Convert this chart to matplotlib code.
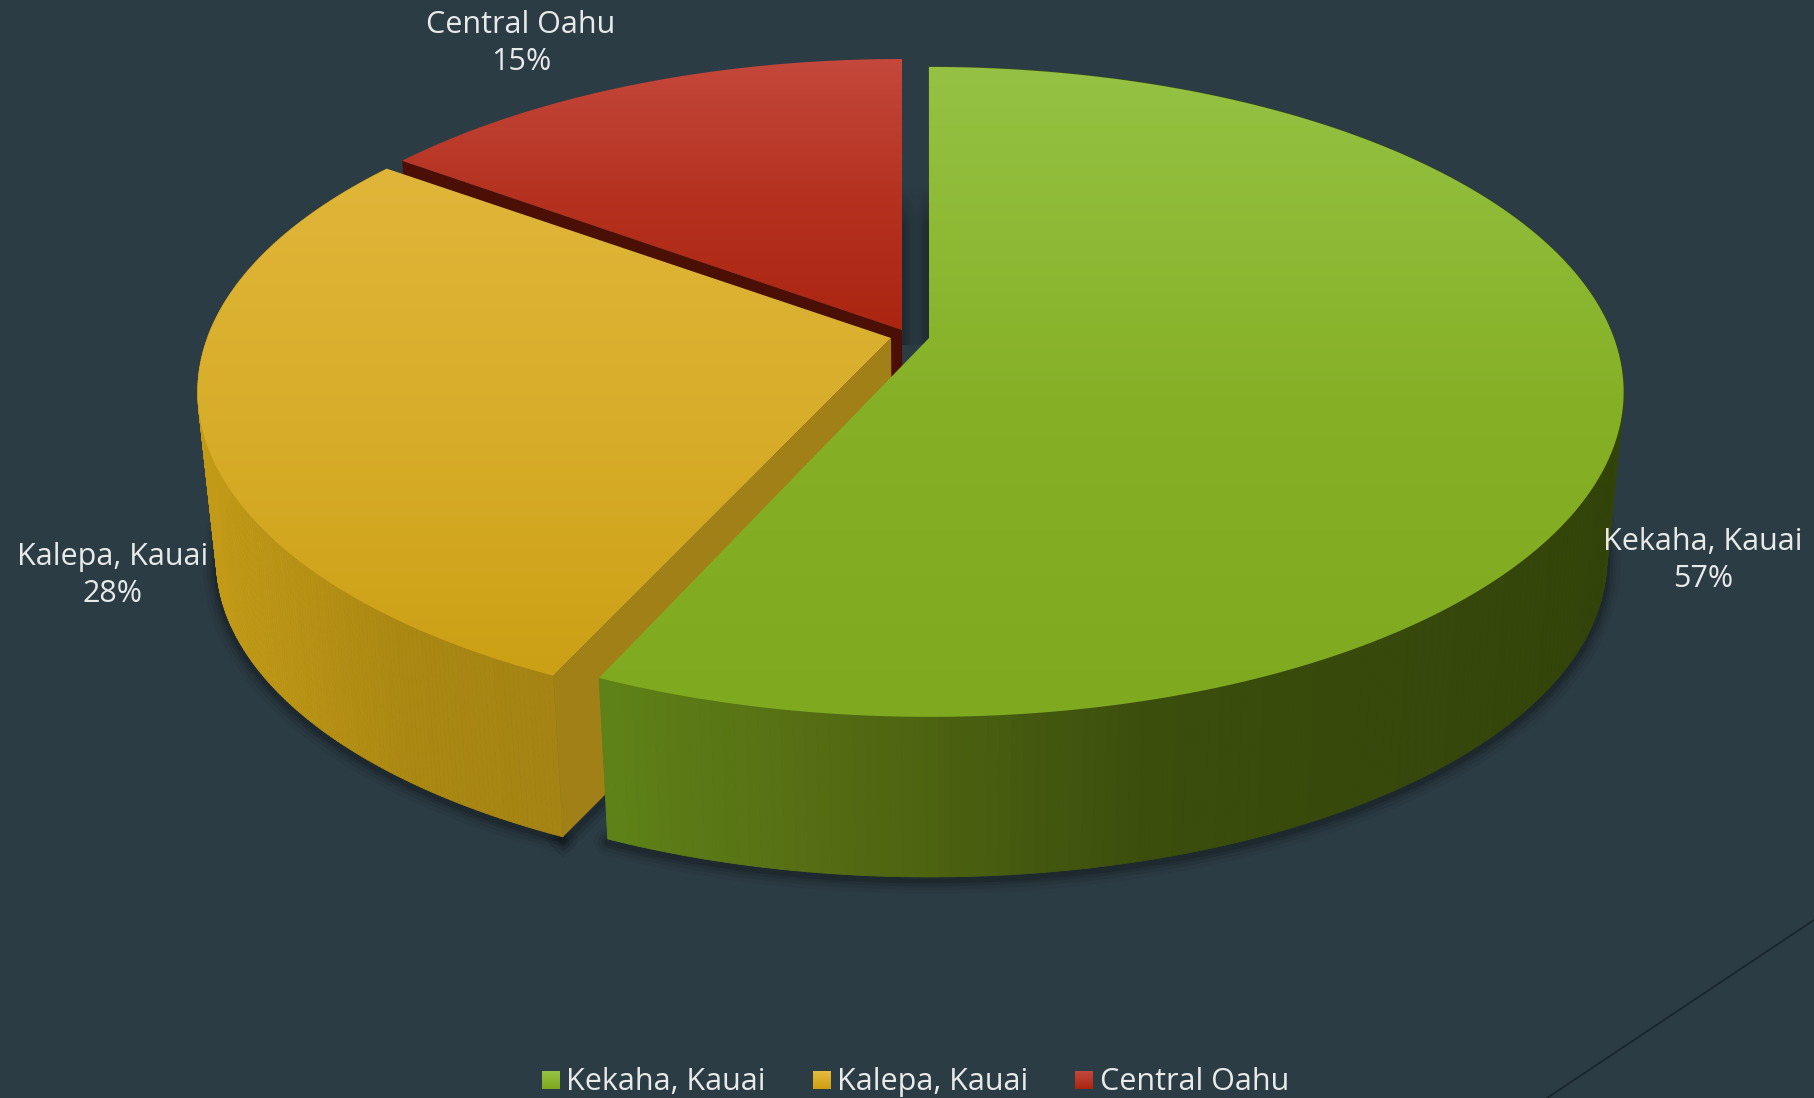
import numpy as np
import matplotlib
matplotlib.use("Agg")
import matplotlib.pyplot as plt
from matplotlib.collections import PolyCollection
from matplotlib.colors import LinearSegmentedColormap, to_rgb
from matplotlib.patches import Polygon

categories = ["Kekaha, Kauai", "Kalepa, Kauai", "Central Oahu"]
values = [56.7, 28.3, 15.0]
percent_labels = ["57%", "28%", "15%"]

W, H = 1814, 1098
BG = "#2c3c45"
TEXT = "#e8eaea"
FONT = "Open Sans"
FS = 22.0

# Slice styling
top_stops = [["#95c244", "#86b127", "#7fa91e"],
             ["#e0b63a", "#d8ad2a", "#cca014"],
             ["#c4483c", "#b53220", "#ab2611"]]
legend_stops = [["#97c345", "#7fa91e"], ["#e5ba3e", "#cda012"], ["#c4483c", "#ab2611"]]
apex = [(929, 338), (891, 338), (902, 330)]
width_scale = [1.0, 0.998, 0.99]
start_nudge = [0.0, 0.012, 0.0]
side_stops = [[(600, "#5f8218"), (800, "#566f14"), (1150, "#3b4e0c"), (1620, "#33440a")],
              [(215, "#c29a17"), (400, "#ab8812"), (620, "#a38215")],
              [(0, "#4b0f05"), (1814, "#4b0f05")]]
wall_colors = [None, "#a18018", "#4b0f05"]
label_pos = [(1703, 542), (113, 557), (521, 25)]
legend_x = [542, 813, 1075]
legend_text_x = [566, 837, 1100]

# Projection parameters
A, B, K = 685.0, 316.0, 0.166
VP_X, VP_Y, SHRINK = 945.0, 7120.0, 0.975


def top_point(theta, r, ap, ws=1.0):
    x, y = r * np.sin(theta), r * np.cos(theta)
    s = 1 / (1 + K * y)
    return ap[0] + A * ws * x * s, ap[1] - B * y * s


def bottom_point(px, py):
    return VP_X + (px - VP_X) * SHRINK, VP_Y + (py - VP_Y) * SHRINK


def color_at(stops, x):
    xs = [s[0] for s in stops]
    cs = np.array([to_rgb(s[1]) for s in stops])
    return [np.interp(x, xs, cs[:, i]) for i in range(3)]


fig = plt.figure(figsize=(W / 100, H / 100), dpi=100, facecolor=BG)
ax = fig.add_axes([0, 0, 1, 1])
ax.set_facecolor(BG)
ax.axis("off")

# Decorative diagonal line
ax.plot([1814, 1547], [920, 1098], color="#1a262d", lw=1.3, zorder=1)

edges = np.concatenate([[0], np.cumsum(values)]) / np.sum(values) * 2 * np.pi
starts = edges[:-1] + np.array(start_nudge)

# Shadow in the gap between slices
gap_alpha = np.array([0.26, 0.20, 0.12, 0.08, 0.12, 0.22, 0.26])[None, :]
ramp = np.clip(np.linspace(0, 4, 80), 0, 1)[:, None]
gap_img = np.zeros((80, 7, 4))
gap_img[..., 3] = gap_alpha * ramp
ax.imshow(gap_img, extent=(902, 930, 345, 184), aspect="auto", zorder=1.5, interpolation="bilinear")

# Soft ground shadow
for i in (0, 1):
    th = np.linspace(starts[i] + (1.0 if i == 0 else 0), edges[i + 1] - (0.2 if i == 1 else 0), 200)
    tx, ty = top_point(th, 1, apex[i], width_scale[i])
    bx, by = bottom_point(tx, ty)
    for lw, a in zip((20, 14, 9, 5), (0.05, 0.07, 0.09, 0.12)):
        ax.plot(bx, by + 3, color="black", alpha=a, lw=lw, solid_capstyle="round", zorder=2)
    if i == 1:
        rr = np.linspace(1, 0.5, 30)
        tx, ty = top_point(starts[1], rr, apex[1], width_scale[1])
        bx, by = bottom_point(tx, ty)
        for lw, a in zip((18, 12, 7), (0.07, 0.09, 0.12)):
            ax.plot(bx, by + 3, color="black", alpha=a, lw=lw, zorder=2)

# Draw back to front: red, yellow, green
for i in (2, 1, 0):
    ap = apex[i]
    ws = width_scale[i]
    theta = np.linspace(starts[i], edges[i + 1], 240)
    tx, ty = top_point(theta, 1, ap, ws)
    bx, by = bottom_point(tx, ty)

    # Outer side, shaded in x
    if i < 2:
        quads, cols = [], []
        for j in range(len(theta) - 1):
            quads.append([(tx[j], ty[j]), (tx[j + 1], ty[j + 1]), (bx[j + 1], by[j + 1]), (bx[j], by[j])])
            cols.append(color_at(side_stops[i], (tx[j] + tx[j + 1]) / 2))
        ax.add_collection(PolyCollection(quads, facecolors=cols, edgecolors=cols, linewidths=0.6, zorder=3 + (2 - i)))

    # Cut wall
    if wall_colors[i]:
        ox, oy = top_point(starts[i], 1, ap, ws)
        obx, oby = bottom_point(ox, oy)
        cbx, cby = bottom_point(ap[0], ap[1])
        ax.add_patch(Polygon([ap, (ox, oy), (obx, oby), (cbx, cby)], closed=True,
                             facecolor=wall_colors[i], edgecolor="none", zorder=3 + (2 - i)))

    # Top face with vertical gradient
    px = np.concatenate([[ap[0]], tx])
    py = np.concatenate([[ap[1]], ty])
    poly = Polygon(np.c_[px, py], closed=True, facecolor="none", edgecolor="none",
                   transform=ax.transData, zorder=3.5 + (2 - i))
    ax.add_patch(poly)
    cmap = LinearSegmentedColormap.from_list(f"top{i}", top_stops[i])
    grad = np.linspace(0, 1, 256)[:, None]
    im = ax.imshow(grad, cmap=cmap, extent=(px.min(), px.max(), py.max(), py.min()),
                   aspect="auto", zorder=3.5 + (2 - i), interpolation="bilinear")
    im.set_clip_path(poly)

# Data labels
for cat, pct, (lx, ly) in zip(categories, percent_labels, label_pos):
    ax.text(lx, ly, cat, ha="center", va="center", color=TEXT, fontsize=FS, family=FONT, zorder=10)
    ax.text(lx, ly + 37, pct, ha="center", va="center", color=TEXT, fontsize=FS, family=FONT, zorder=10)

# Legend
for i, cat in enumerate(categories):
    cmap = LinearSegmentedColormap.from_list(f"leg{i}", legend_stops[i])
    ax.imshow(np.linspace(0, 1, 32)[:, None], cmap=cmap,
              extent=(legend_x[i], legend_x[i] + 18, 1089, 1071), aspect="auto", zorder=10)
    ax.text(legend_text_x[i], 1082, cat, ha="left", va="center", color=TEXT, fontsize=FS, family=FONT, zorder=10)

ax.set_xlim(0, W)
ax.set_ylim(H, 0)
fig.savefig("out.png", dpi=100, facecolor=BG)
